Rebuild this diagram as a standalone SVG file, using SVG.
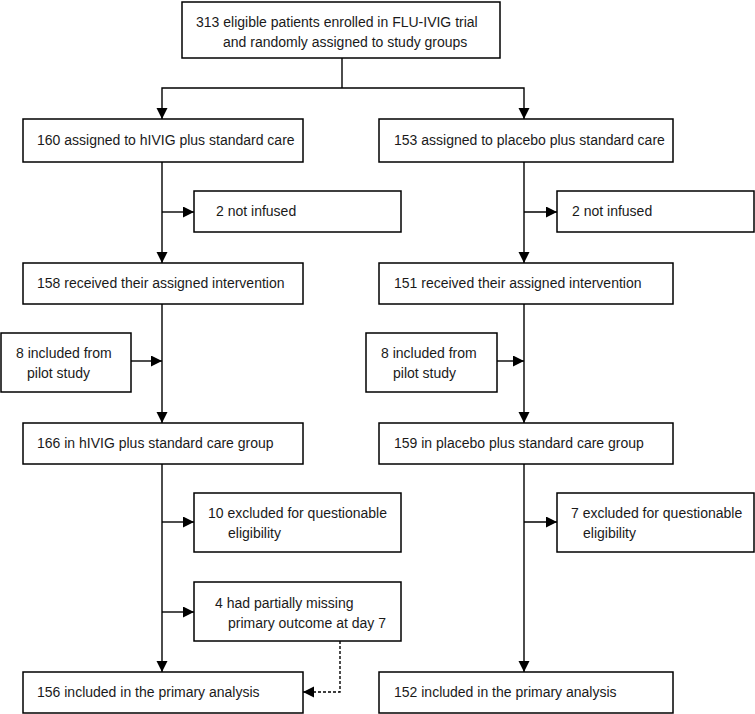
<svg xmlns="http://www.w3.org/2000/svg" width="755" height="714" viewBox="0 0 755 714">
<style>
.b{fill:#fff;stroke:#000;stroke-width:1.5}
text{font-family:"Liberation Sans",Arial,sans-serif;font-size:14px;fill:#1a1a1a}
.c{fill:none;stroke:#000;stroke-width:1.4}
.d{fill:none;stroke:#000;stroke-width:1.4;stroke-dasharray:3 2}
</style>
<defs>
<marker id="ah" markerUnits="userSpaceOnUse" markerWidth="12" markerHeight="12" refX="11" refY="5.5" orient="auto">
<path d="M0,0 L11,5.5 L0,11 z" fill="#000"/>
</marker>
</defs>
<rect width="755" height="714" fill="#fff"/>
<g id="connectors">
<path class="c" d="M342,58 V88"/>
<path class="c" d="M342,88 H162 V119" marker-end="url(#ah)"/>
<path class="c" d="M342,88 H524 V119" marker-end="url(#ah)"/>
<path class="c" d="M162,162 V263" marker-end="url(#ah)"/>
<path class="c" d="M162,212 H194" marker-end="url(#ah)"/>
<path class="c" d="M524,162 V263" marker-end="url(#ah)"/>
<path class="c" d="M524,212 H557" marker-end="url(#ah)"/>
<path class="c" d="M162,304 V423" marker-end="url(#ah)"/>
<path class="c" d="M131,361 H162" marker-end="url(#ah)"/>
<path class="c" d="M524,304 V423" marker-end="url(#ah)"/>
<path class="c" d="M497,361 H524" marker-end="url(#ah)"/>
<path class="c" d="M162,464 V672" marker-end="url(#ah)"/>
<path class="c" d="M162,522 H194" marker-end="url(#ah)"/>
<path class="c" d="M162,612 H194" marker-end="url(#ah)"/>
<path class="c" d="M524,464 V672" marker-end="url(#ah)"/>
<path class="c" d="M524,522 H557" marker-end="url(#ah)"/>
<path class="d" d="M340,641 V692 H303" marker-end="url(#ah)"/>
</g>
<g id="n_enrolled"><rect class="b" x="182" y="2" width="318" height="56"/><text x="196" y="27">313 eligible patients enrolled in FLU-IVIG trial</text><text x="223" y="47">and randomly assigned to study groups</text></g>
<g id="n_hivig_assigned"><rect class="b" x="23" y="119" width="280" height="43"/><text x="37" y="145">160 assigned to hIVIG plus standard care</text></g>
<g id="n_placebo_assigned"><rect class="b" x="379" y="119" width="294" height="43"/><text x="394" y="145">153 assigned to placebo plus standard care</text></g>
<g id="n_hivig_notinfused"><rect class="b" x="194" y="191" width="207" height="41"/><text x="216" y="216">2 not infused</text></g>
<g id="n_placebo_notinfused"><rect class="b" x="557" y="191" width="197" height="41"/><text x="572" y="216">2 not infused</text></g>
<g id="n_hivig_received"><rect class="b" x="23" y="263" width="280" height="41"/><text x="37" y="288">158 received their assigned intervention</text></g>
<g id="n_placebo_received"><rect class="b" x="379" y="263" width="294" height="41"/><text x="394" y="288">151 received their assigned intervention</text></g>
<g id="n_hivig_pilot"><rect class="b" x="1" y="333" width="130" height="59"/><text x="16" y="358">8 included from</text><text x="27" y="378">pilot study</text></g>
<g id="n_placebo_pilot"><rect class="b" x="366" y="333" width="131" height="59"/><text x="381" y="358">8 included from</text><text x="393" y="378">pilot study</text></g>
<g id="n_hivig_group"><rect class="b" x="23" y="423" width="280" height="41"/><text x="37" y="448">166 in hIVIG plus standard care group</text></g>
<g id="n_placebo_group"><rect class="b" x="379" y="423" width="294" height="41"/><text x="394" y="448">159 in placebo plus standard care group</text></g>
<g id="n_hivig_excluded"><rect class="b" x="194" y="493" width="207" height="59"/><text x="208" y="518">10 excluded for questionable</text><text x="228" y="538">eligibility</text></g>
<g id="n_placebo_excluded"><rect class="b" x="557" y="493" width="197" height="59"/><text x="571" y="518">7 excluded for questionable</text><text x="583" y="538">eligibility</text></g>
<g id="n_hivig_missing"><rect class="b" x="194" y="582" width="207" height="59"/><text x="215" y="608">4 had partially missing</text><text x="228" y="628">primary outcome at day 7</text></g>
<g id="n_hivig_primary"><rect class="b" x="23" y="672" width="280" height="41"/><text x="37" y="697">156 included in the primary analysis</text></g>
<g id="n_placebo_primary"><rect class="b" x="379" y="672" width="294" height="41"/><text x="394" y="697">152 included in the primary analysis</text></g>
</svg>
